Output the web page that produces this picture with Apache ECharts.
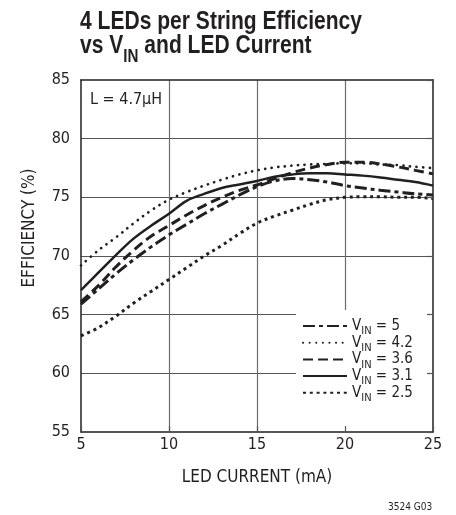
<!DOCTYPE html>
<html>
<head>
<meta charset="utf-8">
<script src="https://cdn.jsdelivr.net/npm/echarts@6/dist/echarts.min.js"></script>
<style>
html,body{margin:0;padding:0;background:#fff;}
#chart{width:456px;height:515px;}
</style>
</head>
<body>
<div id="chart"></div>
<script>
// ---- data ----
var currents = [5,6,7,8,9,10,11,12,13,14,15,16,17,18,19,20,21,22,23,24,25];
var vin5  = [65.9,67.2,68.5,69.7,70.8,71.8,72.7,73.6,74.4,75.2,75.9,76.4,76.6,76.5,76.3,76.0,75.8,75.6,75.45,75.3,75.2];
var vin42 = [69.2,70.5,71.6,72.8,73.9,74.8,75.45,76.0,76.5,76.95,77.3,77.55,77.7,77.8,77.85,77.9,77.9,77.8,77.75,77.6,77.5];
var vin36 = [66.1,67.5,69.1,70.5,71.7,72.6,73.5,74.3,75.0,75.6,76.05,76.6,77.1,77.5,77.8,78.0,78.0,77.85,77.6,77.3,77.0];
var vin31 = [67.1,68.6,70.1,71.5,72.6,73.6,74.7,75.3,75.8,76.1,76.4,76.75,76.95,77.05,77.05,76.95,76.85,76.7,76.5,76.3,76.0];
var vin25 = [63.2,63.9,64.9,66.0,67.0,68.0,69.0,70.0,70.9,71.9,72.8,73.4,73.9,74.4,74.8,75.0,75.05,75.05,75.0,75.0,74.9];
var seriesNames = ['5','4.2','3.6','3.1','2.5'];
var xTicks = [5,10,15,20,25];
var yTicks = [55,60,65,70,75,80,85];
var titleLine1 = '4 LEDs per String Efficiency';
var titleLine2 = ['vs V', 'IN', ' and LED Current'];

var FONT = "'DejaVu Sans Condensed','Liberation Sans Narrow',sans-serif";
var TFONT = "'Liberation Sans',Arial,sans-serif";
var INK = '#231f20';

function pairs(ys){ return currents.map(function(x,i){ return [x, ys[i]]; }); }
function measure(text, font){
  var c = document.createElement('canvas').getContext('2d');
  c.font = font;
  return c.measureText(text).width;
}
var titleScale = 282 / measure(titleLine1, "bold 25px 'Liberation Sans'");

var styles = [
  {width:3, type:[12,4,4,4], cap:'butt'},
  {width:2.7, type:[0.1,6.5], cap:'round'},
  {width:3, type:[10,5], cap:'butt'},
  {width:2.5, type:'solid', cap:'butt'},
  {width:3, type:[3,3.8], cap:'butt'}
];
var datas = [vin5, vin42, vin36, vin31, vin25];

var series = datas.map(function(d,i){
  return {
    name: seriesNames[i],
    type: 'line',
    xAxisIndex: 0, yAxisIndex: 0,
    data: pairs(d),
    smooth: 0.35,
    showSymbol: false,
    symbol: 'none',
    silent: true,
    lineStyle: {color: INK, width: styles[i].width, type: styles[i].type, cap: styles[i].cap},
    itemStyle: {color: INK},
    z: 3
  };
});

function frameX(pos, ticks){
  return {
    type: 'value', position: pos, min: xTicks[0], max: xTicks[xTicks.length-1], interval: 5, z: 20,
    axisLine: {show: true, onZero: false, lineStyle: {color: INK, width: 1.5}},
    axisTick: {show: ticks, inside: true, length: 6, lineStyle: {color: '#555', width: 1.2}},
    axisLabel: {show: false}, splitLine: {show: false}
  };
}
function frameY(pos, ticks){
  return {
    type: 'value', position: pos, min: yTicks[0], max: yTicks[yTicks.length-1], interval: 5, z: 20,
    axisLine: {show: true, onZero: false, lineStyle: {color: INK, width: 1.5}},
    axisTick: {show: ticks, inside: true, length: 6, lineStyle: {color: '#555', width: 1.2}},
    axisLabel: {show: false}, splitLine: {show: false}
  };
}

var chart = echarts.init(document.getElementById('chart'), null, {renderer:'canvas'});
chart.setOption({
  animation: false,
  backgroundColor: '#fff',
  grid: {left: 81, right: 23, top: 80, bottom: 83},
  xAxis: [{
    type: 'value', min: xTicks[0], max: xTicks[xTicks.length-1], interval: 5,
    axisLine: {show: false}, axisTick: {show: false},
    axisLabel: {fontFamily: FONT, fontSize: 16, color: INK, margin: 5},
    splitLine: {show: true, showMinLine: false, showMaxLine: false, lineStyle: {color: '#6d6d6d', width: 1.2}},
    name: 'LED CURRENT (mA)', nameLocation: 'middle', nameGap: 37,
    nameTextStyle: {fontFamily: FONT, fontSize: 17, color: INK}
  }, frameX('bottom', true), frameX('top', false)],
  yAxis: [{
    type: 'value', min: yTicks[0], max: yTicks[yTicks.length-1], interval: 5,
    axisLine: {show: false}, axisTick: {show: false},
    axisLabel: {fontFamily: FONT, fontSize: 16, color: INK, margin: 11},
    splitLine: {show: true, showMinLine: false, showMaxLine: false, lineStyle: {color: '#555', width: 1.2}}
  }, frameY('right', true), frameY('left', false)],
  legend: {
    orient: 'vertical', left: 296, top: 310,
    backgroundColor: '#fff',
    padding: [8.5, 20, 29, 6],
    itemWidth: 44, itemHeight: 14, itemGap: -1.7,
    data: seriesNames,
    itemStyle: {opacity: 0},
    formatter: function(n){ return '{v|V}{s|IN}{v| = ' + n + '}'; },
    textStyle: {
      color: INK,
      rich: {
        v: {fontFamily: FONT, fontSize: 15, lineHeight: 15, color: INK, verticalAlign: 'top'},
        s: {fontFamily: FONT, fontSize: 11, lineHeight: 11, color: INK, verticalAlign: 'top', padding: [7.4,0,0,0]}
      }
    },
    z: 10
  },
  graphic: [
    {type: 'text', x: 80, y: 10, scaleX: titleScale, z: 5,
      style: {text: titleLine1, font: "bold 25px 'Liberation Sans'", fill: INK}},
    {type: 'text', x: 80, y: 34, scaleX: titleScale, z: 5,
      style: {
        text: '{t|' + titleLine2[0] + '}{s|' + titleLine2[1] + '}{t|' + titleLine2[2] + '}',
        rich: {
          t: {fontFamily: TFONT, fontWeight: 'bold', fontSize: 25, lineHeight: 26, fill: INK, verticalAlign: 'top'},
          s: {fontFamily: TFONT, fontWeight: 'bold', fontSize: 18, lineHeight: 18, fill: INK, verticalAlign: 'top', padding: [14,0,0,0]}
        }
      }},
    {type: 'text', left: 90, top: 92, z: 5, style: {text: 'L = 4.7\u03bcH', fontFamily: FONT, fontSize: 16, fill: INK}},
    {type: 'text', x: 30, y: 228, rotation: Math.PI/2, z: 5,
      style: {text: 'EFFICIENCY (%)', fontFamily: FONT, fontSize: 17, fill: INK, align: 'center', verticalAlign: 'middle'}},
    {type: 'text', left: 388, top: 502, z: 5, style: {text: '3524 G03', fontFamily: FONT, fontSize: 10, fill: INK}}
  ],
  series: series
});
</script>
</body>
</html>
